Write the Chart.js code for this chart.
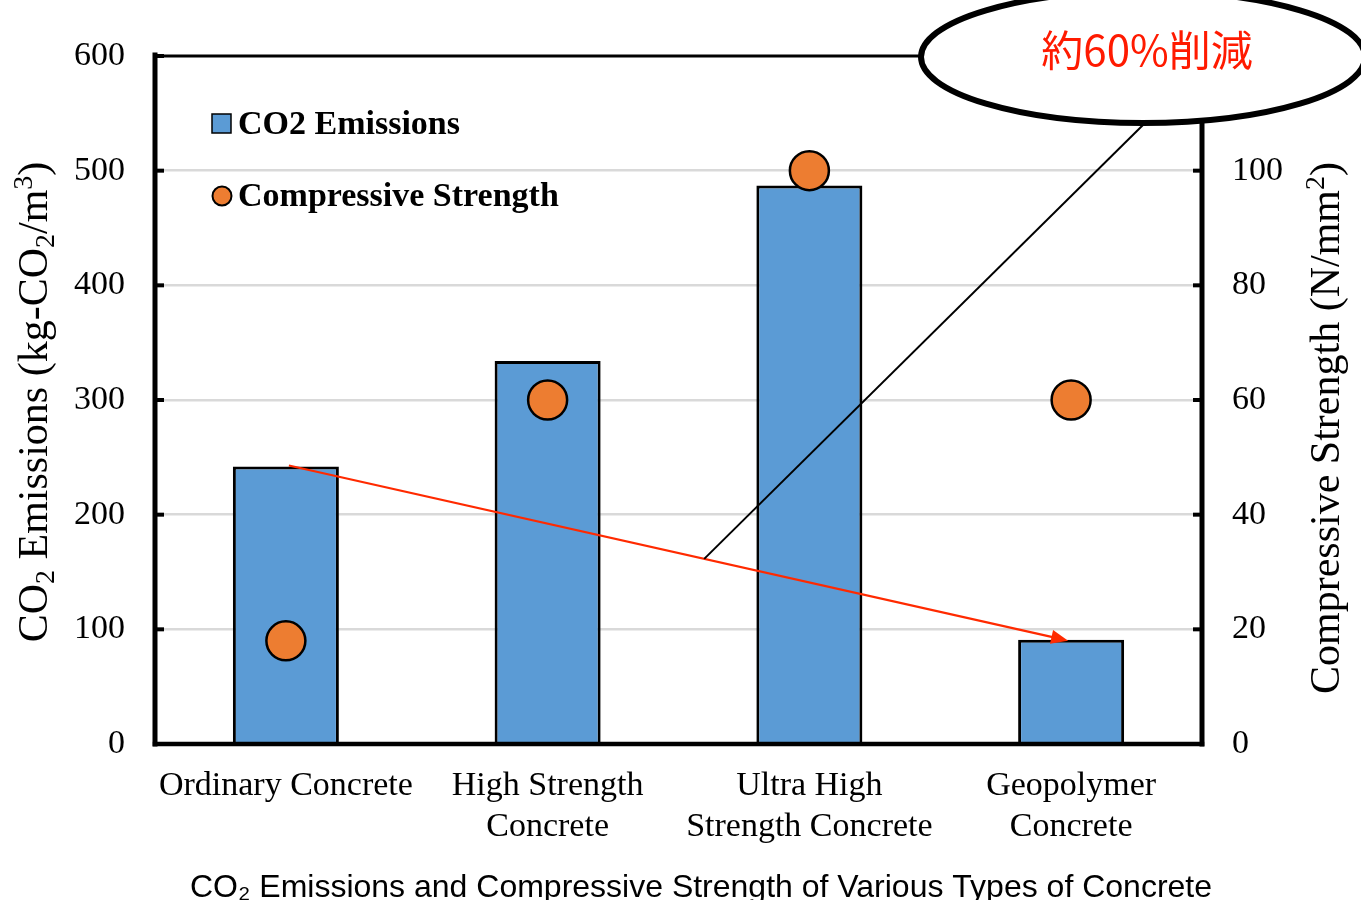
<!DOCTYPE html>
<html>
<head>
<meta charset="utf-8">
<script src="https://cdn.jsdelivr.net/npm/chart.js@4.4.0/dist/chart.umd.min.js"></script>
<style>
  html, body { margin: 0; padding: 0; background: #ffffff; }
  canvas { display: block; }
</style>
</head>
<body>
<canvas id="chart" width="1361" height="900"></canvas>
<script>
// Concrete types (multi-line axis labels)
const categories = [
  ['Ordinary Concrete'],
  ['High Strength', 'Concrete'],
  ['Ultra High', 'Strength Concrete'],
  ['Geopolymer', 'Concrete']
];
// CO2 emissions, kg-CO2/m3 (left axis)
const co2Emissions = [242, 334, 487, 91];
// Compressive strength, N/mm2 (right axis)
const compressiveStrength = [18, 60, 100, 60];
// Axis ranges and tick steps
const emissionsAxis = { min: 0, max: 600, step: 100 };
const strengthAxis = { min: 0, max: 120, step: 20 };

const seriesLabels = ['CO2 Emissions', 'Compressive Strength'];
const reductionNote = '約60%削減';
const caption = 'CO₂ Emissions and Compressive Strength of Various Types of Concrete';

const BLUE = '#5B9BD5';
const ORANGE = '#ED7D31';
const RED = '#ff2a00';
const SERIF = '"Liberation Serif", "Times New Roman", serif';

// Draws a run of text pieces (normal / sub / sup) centred on the origin
function drawRich(ctx, pieces, size) {
  const small = Math.round(size * 0.66);
  const widths = pieces.map(p => {
    ctx.font = (p[1] ? small : size) + 'px ' + SERIF;
    return ctx.measureText(p[0]).width;
  });
  const total = widths.reduce((a, b) => a + b, 0);
  let x = -total / 2;
  ctx.textAlign = 'left';
  ctx.textBaseline = 'alphabetic';
  const base = size * 0.33;
  pieces.forEach((p, i) => {
    let dy = 0;
    if (p[1] === 'sub') dy = size * 0.18;
    if (p[1] === 'sup') dy = -size * 0.36;
    ctx.font = (p[1] ? small : size) + 'px ' + SERIF;
    ctx.fillText(p[0], x, base + dy);
    x += widths[i];
  });
}

// Frame, inward tick marks, titles, legend and the reduction callout
const decorations = {
  id: 'decorations',
  afterDatasetsDraw(chart) {
    const { ctx, chartArea: a, scales } = chart;
    const y = scales.y, y1 = scales.y1, x = scales.x;
    ctx.save();
    ctx.strokeStyle = '#000';
    ctx.lineCap = 'square';

    // plot frame
    ctx.lineWidth = 3;
    ctx.beginPath(); ctx.moveTo(a.left, a.top); ctx.lineTo(a.right, a.top); ctx.stroke();
    ctx.lineWidth = 5;
    ctx.beginPath(); ctx.moveTo(a.left, a.top - 1); ctx.lineTo(a.left, a.bottom); ctx.stroke();
    ctx.beginPath(); ctx.moveTo(a.right, a.top); ctx.lineTo(a.right, a.bottom); ctx.stroke();
    ctx.lineWidth = 4.5;
    ctx.beginPath(); ctx.moveTo(a.left, a.bottom); ctx.lineTo(a.right, a.bottom); ctx.stroke();

    // tick marks pointing into the plot
    ctx.lineWidth = 4;
    ctx.lineCap = 'butt';
    y.ticks.forEach(t => {
      const py = y.getPixelForValue(t.value);
      ctx.beginPath(); ctx.moveTo(a.left, py); ctx.lineTo(a.left + 9, py); ctx.stroke();
    });
    y1.ticks.forEach(t => {
      const py = y1.getPixelForValue(t.value);
      ctx.beginPath(); ctx.moveTo(a.right - 9, py); ctx.lineTo(a.right, py); ctx.stroke();
    });

    // red trend arrow between the first and last bar tops
    const x0 = x.getPixelForValue(0) + 3, yA = y.getPixelForValue(co2Emissions[0]) - 1;
    const x3 = x.getPixelForValue(3) - 3, yB = y.getPixelForValue(co2Emissions[3]) + 1;
    const ang = Math.atan2(yB - yA, x3 - x0);
    const head = 17, half = 7;
    ctx.strokeStyle = RED;
    ctx.fillStyle = RED;
    ctx.lineWidth = 2.2;
    ctx.beginPath();
    ctx.moveTo(x0, yA);
    ctx.lineTo(x3 - Math.cos(ang) * head * 0.8, yB - Math.sin(ang) * head * 0.8);
    ctx.stroke();
    ctx.beginPath();
    ctx.moveTo(x3, yB);
    ctx.lineTo(x3 - Math.cos(ang) * head - Math.sin(ang) * half, yB - Math.sin(ang) * head + Math.cos(ang) * half);
    ctx.lineTo(x3 - Math.cos(ang) * head + Math.sin(ang) * half, yB - Math.sin(ang) * head - Math.cos(ang) * half);
    ctx.closePath();
    ctx.fill();

    // callout ellipse and its leader line
    const ex = 1143, ey = 57, rx = 222, ry = 66;
    const t = 0.533;
    const lx = x0 + (x3 - x0) * t, ly = yA + (yB - yA) * t;
    ctx.strokeStyle = '#000';
    ctx.lineWidth = 2;
    ctx.beginPath(); ctx.moveTo(lx, ly); ctx.lineTo(ex + 2, ey + ry); ctx.stroke();
    ctx.beginPath();
    ctx.ellipse(ex, ey, rx, ry, 0, 0, Math.PI * 2);
    ctx.fillStyle = '#fff';
    ctx.fill();
    ctx.lineWidth = 6;
    ctx.stroke();
    ctx.fillStyle = '#ff1a00';
    ctx.font = '42px "Noto Sans CJK JP", sans-serif';
    ctx.textAlign = 'center';
    ctx.textBaseline = 'middle';
    ctx.fillText(reductionNote, 1147, 50);

    // legend inside the plot
    const ds = chart.data.datasets;
    ctx.font = 'bold 34px ' + SERIF;
    ctx.textAlign = 'left';
    ctx.textBaseline = 'middle';
    ctx.fillStyle = ds[0].backgroundColor;
    ctx.fillRect(212, 114, 19, 19);
    ctx.lineWidth = 1.5;
    ctx.strokeStyle = '#000';
    ctx.strokeRect(212, 114, 19, 19);
    ctx.fillStyle = '#000';
    ctx.fillText(ds[0].label, 238, 125);
    ctx.beginPath();
    ctx.arc(222, 196, 9.5, 0, Math.PI * 2);
    ctx.fillStyle = ds[1].pointBackgroundColor;
    ctx.fill();
    ctx.lineWidth = 2;
    ctx.stroke();
    ctx.fillStyle = '#000';
    ctx.fillText(ds[1].label, 238, 197);

    // vertical axis titles
    ctx.fillStyle = '#000';
    ctx.save();
    ctx.translate(33, (a.top + a.bottom) / 2 + 2);
    ctx.rotate(-Math.PI / 2);
    drawRich(ctx, [['CO'], ['2', 'sub'], [' Emissions (kg-CO'], ['2', 'sub'], ['/m'], ['3', 'sup'], [')']], 42);
    ctx.restore();
    ctx.save();
    ctx.translate(1325, 428);
    ctx.rotate(-Math.PI / 2);
    drawRich(ctx, [['Compressive Strength (N/mm'], ['2', 'sup'], [')']], 42);
    ctx.restore();

    // caption under the chart
    ctx.font = '32px "Liberation Sans", Arial, sans-serif';
    ctx.textAlign = 'center';
    ctx.textBaseline = 'alphabetic';
    ctx.fillText(caption, 701, 897);
    ctx.restore();
  }
};

new Chart(document.getElementById('chart'), {
  data: {
    labels: categories,
    datasets: [
      {
        type: 'bar',
        label: seriesLabels[0],
        data: co2Emissions,
        yAxisID: 'y',
        backgroundColor: BLUE,
        borderColor: '#000',
        borderWidth: 3,
        categoryPercentage: 1,
        barPercentage: 0.405,
        order: 2
      },
      {
        type: 'line',
        label: seriesLabels[1],
        data: compressiveStrength,
        yAxisID: 'y1',
        showLine: false,
        pointRadius: 19.5,
        pointBorderWidth: 2.5,
        pointBackgroundColor: ORANGE,
        pointBorderColor: '#000',
        borderColor: '#000',
        backgroundColor: ORANGE,
        order: 1
      }
    ]
  },
  options: {
    responsive: false,
    animation: false,
    events: [],
    layout: { padding: { top: 56, left: 0, right: 0, bottom: 0 } },
    plugins: { legend: { display: false }, tooltip: { enabled: false } },
    scales: {
      x: {
        grid: { display: false, drawTicks: false },
        border: { display: false },
        ticks: {
          color: '#000',
          padding: 22,
          maxRotation: 0,
          autoSkip: false,
          font: { family: SERIF, size: 34, lineHeight: 1.2 }
        },
        afterFit(s) { s.height = 156; }
      },
      y: {
        position: 'left',
        min: emissionsAxis.min,
        max: emissionsAxis.max,
        border: { display: false },
        grid: {
          drawTicks: false,
          lineWidth: 2.5,
          color: c => (c.tick && (c.tick.value === emissionsAxis.min || c.tick.value === emissionsAxis.max)) ? 'rgba(0,0,0,0)' : '#d9d9d9'
        },
        ticks: {
          stepSize: emissionsAxis.step,
          color: '#000',
          padding: 30,
          font: { family: SERIF, size: 34 }
        },
        afterFit(s) { s.width = 155; }
      },
      y1: {
        position: 'right',
        min: strengthAxis.min,
        max: strengthAxis.max,
        border: { display: false },
        grid: { display: false, drawTicks: false },
        ticks: {
          stepSize: strengthAxis.step,
          color: '#000',
          padding: 30,
          font: { family: SERIF, size: 34 },
          callback: v => (v === strengthAxis.max ? '' : v)
        },
        afterFit(s) { s.width = 159; }
      }
    }
  },
  plugins: [decorations]
});
</script>
</body>
</html>
